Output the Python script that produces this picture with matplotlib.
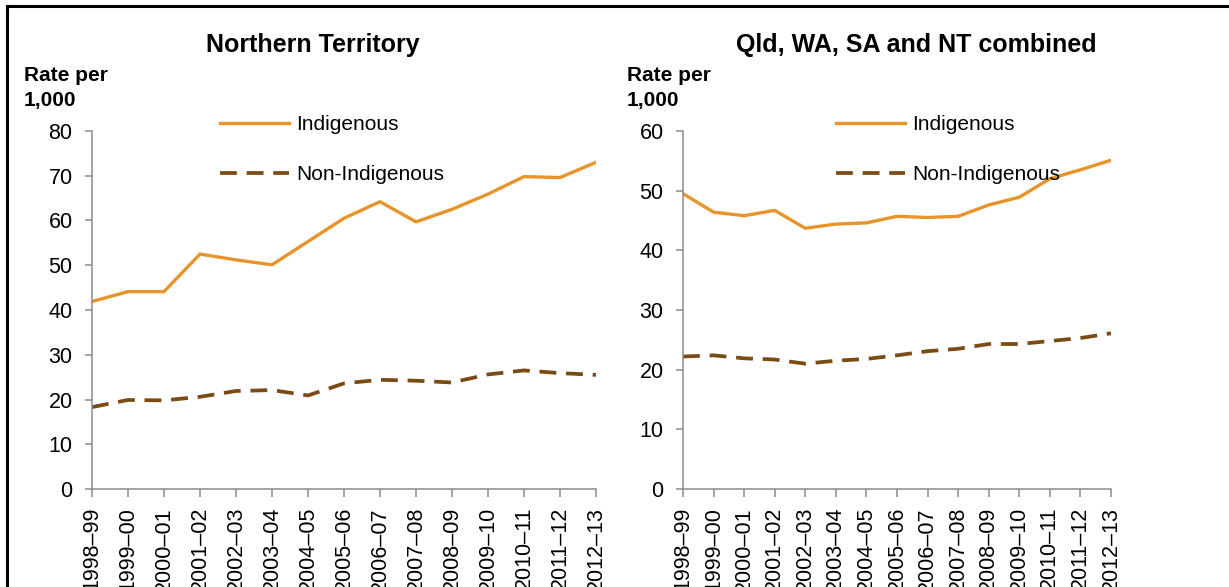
import numpy as np
import matplotlib
matplotlib.use("Agg")
import matplotlib.pyplot as plt
from matplotlib.lines import Line2D

plt.rcParams['font.family'] = ['Liberation Sans', 'DejaVu Sans']

years = ["1998–99", "1999–00", "2000–01", "2001–02", "2002–03", "2003–04", "2004–05",
         "2005–06", "2006–07", "2007–08", "2008–09", "2009–10", "2010–11", "2011–12", "2012–13"]

nt_indig = [41.9, 44.1, 44.1, 52.5, 51.2, 50.1, 55.3, 60.5, 64.2, 59.7, 62.5, 65.9, 69.8, 69.6, 73.0]
nt_non = [18.3, 19.9, 19.8, 20.6, 21.9, 22.1, 20.9, 23.6, 24.4, 24.2, 23.8, 25.6, 26.5, 25.9, 25.5]

comb_indig = [49.5, 46.4, 45.8, 46.7, 43.7, 44.4, 44.6, 45.7, 45.5, 45.7, 47.6, 48.9, 52.0, 53.5, 55.1]
comb_non = [22.2, 22.4, 21.9, 21.7, 21.0, 21.5, 21.8, 22.4, 23.1, 23.5, 24.3, 24.3, 24.8, 25.3, 26.1]

orange = "#E8942B"
brown = "#7A4B14"
grey = "#8C8C8C"

W, H = 1229, 587
fig = plt.figure(figsize=(W / 100, H / 100), dpi=100)

# frame lines (top and left only visible)
fig.add_artist(Line2D([7 / W, 7 / W], [0, 1 - 6 / H], color="black", lw=2.2))
fig.add_artist(Line2D([7 / W, 1], [1 - 6 / H, 1 - 6 / H], color="black", lw=2.2))

panels = [
    dict(left=92, right=596, title="Northern Territory", tx=313, ylim=80,
         ylab_x=24, leg_x=220, a=nt_indig, b=nt_non),
    dict(left=683, right=1111, title="Qld, WA, SA and NT combined", tx=916, ylim=60,
         ylab_x=627, leg_x=836, a=comb_indig, b=comb_non),
]

x = np.arange(len(years))
for p in panels:
    ax = fig.add_axes([p["left"] / W, (H - 489) / H, (p["right"] - p["left"]) / W, 358 / H])
    ax.plot(x, p["a"], color=orange, lw=2.4, label="Indigenous")
    ax.plot(x, p["b"], color=brown, lw=2.7, dashes=(4.5, 2.6), label="Non-Indigenous")
    ax.set_xlim(0, len(years) - 1)
    ax.set_ylim(0, p["ylim"])
    ax.set_yticks(np.arange(0, p["ylim"] + 1, 10))
    ax.set_xticks(x)
    ax.set_xticklabels(years, rotation=90, fontsize=15.5)
    ax.tick_params(axis="y", labelsize=15.5, length=5, width=1.1, color=grey, pad=9)
    ax.tick_params(axis="x", length=6, width=1.1, color=grey, pad=7)
    for s in ["top", "right"]:
        ax.spines[s].set_visible(False)
    for s in ["left", "bottom"]:
        ax.spines[s].set_color(grey)
        ax.spines[s].set_linewidth(1.1)
    fig.text(p["tx"] / W, 1 - 45 / H, p["title"], ha="center", va="center",
             fontsize=18, fontweight="bold")
    fig.text(p["ylab_x"] / W, 1 - 66 / H, "Rate per\n1,000", ha="left", va="top",
             fontsize=15, fontweight="bold", linespacing=1.4)
    ax.legend(loc="upper left", bbox_to_anchor=(p["leg_x"] / W, 1 - 115 / H),
              bbox_transform=fig.transFigure, frameon=False, fontsize=15,
              borderpad=0, borderaxespad=0, handlelength=3.3, handletextpad=0.35,
              labelspacing=1.5)

fig.savefig("out.png", dpi=100)
